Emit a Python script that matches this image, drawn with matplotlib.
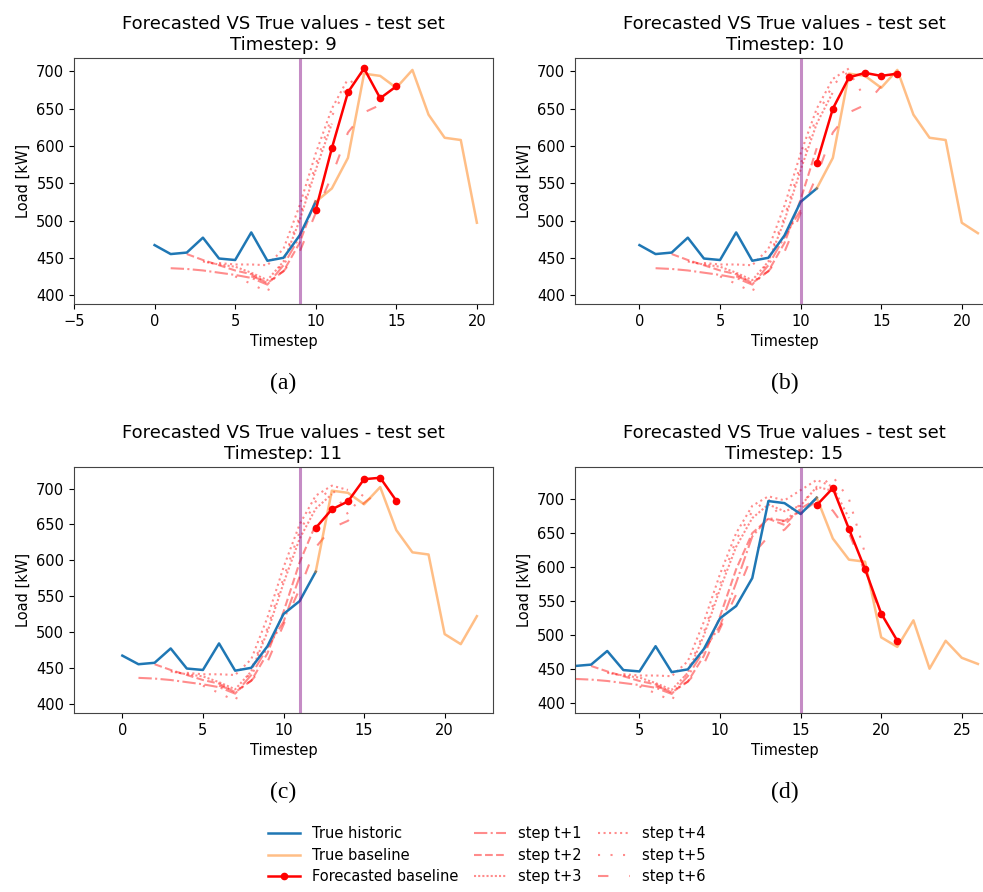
import numpy as np
import matplotlib
matplotlib.use('Agg')
from matplotlib import pyplot as plt


# true load, timesteps 0..26
true_load = [467, 455, 457, 477, 449, 447, 484, 446, 450, 480,
             525, 543, 584, 697, 694, 678, 702, 642, 611, 608,
             497, 483, 522, 451, 492, 467, 458]

# the 4 snapshots
timesteps = [9, 10, 11, 15]
captions  = ['(a)', '(b)', '(c)', '(d)']

# forecasted baseline (made at timestep, for t+1 .. t+6)
forecast_9  = [514, 597, 672, 704, 664, 680]
forecast_10 = [577, 650, 692, 698, 694, 697]
forecast_11 = [645, 671, 682, 713, 715, 683]
forecast_15 = [691, 716, 656, 597, 532, 492]
forecasts   = [forecast_9, forecast_10, forecast_11, forecast_15]

# past forecasts per horizon, step t+k starts at x = k
step_1 = [436, 435, 433, 430, 427, 423, 414, 440, 478, 514, 577, 645, 672, 668, 682]
step_2 = [455, 447, 440, 433, 428, 416, 432, 470, 528, 597, 650, 671, 662, 686, 700]
step_3 = [445, 441, 438, 430, 420, 445, 500, 568, 630, 672, 692, 682, 690, 718, 712]
step_4 = [443, 441, 441, 440, 462, 520, 590, 650, 690, 704, 698, 713, 728, 718, 672]
step_5 = [425, 415, 404, 448, 505, 575, 640, 682, 700, 664, 694, 715, 733, 700, 620]
step_6 = [425, 418, 432, 458, 510, 560, 618, 645, 655, 680, 697, 683, 650, 592, 530]
steps  = [step_1, step_2, step_3, step_4, step_5, step_6]

step_styles = ['-.', '--', (0, (1, 1)), ':', (0, (1, 5)), (0, (5, 10))]

ylims = [(388, 718), (388, 718), (387, 730), (386, 747)]

W, H = 983, 892
fig = plt.figure(figsize=(W / 100, H / 100), dpi=100)

# axes boxes in pixels: left, top
boxes = [(74, 58), (575, 58), (74, 467), (575, 467)]
ax_w, ax_h = 419, 246

handles = None
for i in range(4):
    ts = timesteps[i]
    left, top = boxes[i]
    ax = fig.add_axes([left / W, 1 - (top + ax_h) / H, ax_w / W, ax_h / H])

    for k in range(6):
        x_k = np.arange(k + 1, k + 1 + ts)
        ax.plot(x_k, steps[k][:ts], color='r', alpha=0.45, lw=1.5,
                linestyle=step_styles[k], label='step t+{}'.format(k + 1))

    x_all = np.arange(len(true_load))
    h1, = ax.plot(x_all[:ts + 2], true_load[:ts + 2], color='tab:blue', lw=1.8,
                  label='True historic')
    h2, = ax.plot(x_all[ts + 1:ts + 12], true_load[ts + 1:ts + 12], color='tab:orange',
                  alpha=0.5, lw=1.8, label='True baseline')
    h3, = ax.plot(np.arange(ts + 1, ts + 7), forecasts[i], '.-', color='r', lw=1.8,
                  markersize=9, label='Forecasted baseline')
    ax.axvline(ts, color='purple', alpha=0.45, lw=2.2)

    ax.set_xlim(ts - 14, ts + 12)
    ax.set_ylim(ylims[i])
    ax.set_title('Forecasted VS True values - test set\nTimestep: {}'.format(ts),
                 fontsize=13)
    ax.set_xlabel('Timestep', fontsize=10.5)
    ax.set_ylabel('Load [kW]', fontsize=10.5)
    ax.tick_params(labelsize=10.5)
    for s in ax.spines.values():
        s.set_color('#444444')

    fig.text((left + ax_w / 2) / W, 1 - (top + 325) / H, captions[i],
             family='Liberation Serif', fontsize=17, ha='center', va='center')

    if handles is None:
        hs, ls = ax.get_legend_handles_labels()
        handles = [h1, h2, h3] + hs[:6]
        labels = ['True historic', 'True baseline', 'Forecasted baseline'] + ls[:6]

fig.legend(handles, labels, ncol=3, loc='center', bbox_to_anchor=(0.495, 0.041),
           frameon=False, fontsize=10.5, handlelength=2.2, columnspacing=1.1,
           labelspacing=0.45, handletextpad=0.8)

plt.savefig('out.png', dpi=100)
plt.close()
